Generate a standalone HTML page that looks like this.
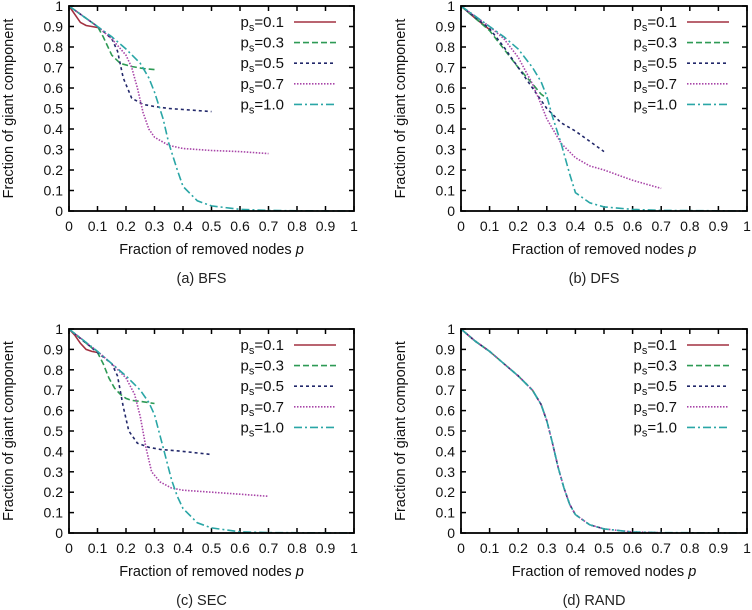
<!DOCTYPE html>
<html><head><meta charset="utf-8">
<style>
html,body{margin:0;padding:0;background:#fff;}
svg{display:block;font-family:"Liberation Sans",Arial,sans-serif;}
</style></head>
<body>
<svg id="fig" width="752" height="610" viewBox="0 0 752 610"></svg>
<script>
const seriesLabels = ["0.1","0.3","0.5","0.7","1.0"];
const xTicks = [0,0.1,0.2,0.3,0.4,0.5,0.6,0.7,0.8,0.9,1];
const yTicks = [0,0.1,0.2,0.3,0.4,0.5,0.6,0.7,0.8,0.9,1];
const xTickLabels = ["0","0.1","0.2","0.3","0.4","0.5","0.6","0.7","0.8","0.9","1"];
const yTickLabels = ["0","0.1","0.2","0.3","0.4","0.5","0.6","0.7","0.8","0.9","1"];
const captions = ["(a)   BFS","(b)   DFS","(c)   SEC","(d)   RAND"];

// Panel a (BFS)
const bfsX = [
 [0,0.02,0.04,0.06,0.08,0.1],
 [0,0.05,0.1,0.12,0.15,0.18,0.22,0.26,0.3],
 [0,0.05,0.1,0.15,0.17,0.19,0.22,0.26,0.3,0.35,0.4,0.5],
 [0,0.1,0.15,0.2,0.22,0.24,0.26,0.28,0.3,0.35,0.4,0.5,0.6,0.7],
 [0,0.1,0.15,0.2,0.25,0.28,0.3,0.33,0.35,0.38,0.4,0.45,0.5,0.6,0.7,0.8,1.0]];
const bfsY = [
 [1,0.96,0.92,0.905,0.9,0.895],
 [1,0.95,0.9,0.85,0.76,0.72,0.705,0.695,0.69],
 [1,0.95,0.9,0.84,0.78,0.65,0.55,0.52,0.51,0.5,0.495,0.485],
 [1,0.9,0.84,0.76,0.7,0.6,0.48,0.4,0.36,0.32,0.305,0.295,0.29,0.28],
 [1,0.9,0.85,0.79,0.72,0.65,0.58,0.45,0.33,0.2,0.12,0.05,0.025,0.008,0.003,0.001,0]];
// Panel b (DFS)
const dfsX = [
 [0,0.05,0.1],
 [0,0.1,0.15,0.2,0.25,0.28,0.3],
 [0,0.1,0.15,0.2,0.25,0.3,0.35,0.4,0.45,0.5],
 [0,0.1,0.15,0.2,0.25,0.28,0.3,0.35,0.4,0.45,0.5,0.6,0.7],
 [0,0.1,0.15,0.2,0.25,0.28,0.3,0.32,0.35,0.38,0.4,0.45,0.5,0.6,0.7,1]];
const dfsY = [
 [1,0.94,0.885],
 [1,0.88,0.79,0.7,0.62,0.57,0.55],
 [1,0.89,0.8,0.7,0.6,0.5,0.43,0.39,0.34,0.29],
 [1,0.9,0.84,0.75,0.62,0.52,0.45,0.33,0.26,0.22,0.2,0.15,0.11],
 [1,0.9,0.85,0.79,0.7,0.63,0.56,0.46,0.33,0.18,0.09,0.04,0.02,0.008,0.003,0]];
// Panel c (SEC)
const secX = [
 [0,0.02,0.04,0.06,0.08,0.1],
 [0,0.1,0.12,0.14,0.16,0.18,0.2,0.22,0.25,0.3],
 [0,0.1,0.15,0.17,0.19,0.21,0.24,0.28,0.32,0.4,0.5],
 [0,0.1,0.15,0.2,0.23,0.25,0.27,0.29,0.32,0.36,0.4,0.5,0.6,0.7],
 [0,0.1,0.15,0.2,0.25,0.28,0.3,0.33,0.36,0.38,0.4,0.45,0.5,0.6,0.7,1]];
const secY = [
 [1,0.97,0.93,0.9,0.89,0.885],
 [1,0.885,0.83,0.76,0.71,0.68,0.66,0.65,0.645,0.635],
 [1,0.885,0.83,0.77,0.62,0.5,0.44,0.42,0.41,0.4,0.385],
 [1,0.89,0.83,0.76,0.68,0.57,0.42,0.3,0.25,0.22,0.21,0.2,0.19,0.18],
 [1,0.89,0.83,0.77,0.7,0.64,0.58,0.42,0.26,0.18,0.12,0.05,0.025,0.006,0.002,0]];
// Panel d (RAND)
const randX = [0,0.05,0.1,0.15,0.2,0.25,0.28,0.3,0.32,0.34,0.36,0.38,0.4,0.45,0.5,0.6,0.7,1];
const randY = [1,0.94,0.89,0.83,0.77,0.7,0.63,0.55,0.44,0.32,0.22,0.14,0.09,0.04,0.02,0.005,0.002,0];
const randLimits = [0.1,0.3,0.5,0.7,1.0];

const colors = ["#a23040","#2e9a55","#22286a","#a845a8","#2aa6a6"];
const dashes = ["","6,3","3,3","1.5,1.5","8,3,2,3"];
const NS = "http://www.w3.org/2000/svg";
const svg = document.getElementById("fig");
function mk(tag, attrs, parent){const e=document.createElementNS(NS,tag);for(const k in attrs)e.setAttribute(k,attrs[k]);(parent||svg).appendChild(e);return e;}

function randSeries(lim){const xs=[],ys=[];for(let i=0;i<randX.length;i++){if(randX[i]<=lim+1e-9){xs.push(randX[i]);ys.push(randY[i]);}}return [xs,ys];}

const panels = [
 {x0:69,x1:354,y0:211,y1:6,cap:0,xs:bfsX,ys:bfsY,name:"bfs"},
 {x0:461,x1:747,y0:211,y1:6,cap:1,xs:dfsX,ys:dfsY,name:"dfs"},
 {x0:69,x1:354,y0:533,y1:329,cap:2,xs:secX,ys:secY,name:"sec"},
 {x0:461,x1:747,y0:533,y1:329,cap:3,xs:randLimits.map(l=>randSeries(l)[0]),ys:randLimits.map(l=>randSeries(l)[1]),name:"rand"}
];

panels.forEach(p=>{
  const g = mk("g",{});
  
  
  const sx = v => p.x0 + v*(p.x1-p.x0);
  const sy = v => p.y0 + v*(p.y1-p.y0);
  xTicks.forEach((t,i)=>{
    const x=sx(t);
    mk("line",{x1:x,x2:x,y1:p.y0,y2:p.y0-5,stroke:"#000","stroke-width":1.5},g);
    mk("line",{x1:x,x2:x,y1:p.y1,y2:p.y1+5,stroke:"#000","stroke-width":1.5},g);
    const tl=mk("text",{x:x,y:p.y0+20,"text-anchor":"middle","font-size":14,fill:"#111"},g);
    tl.textContent=xTickLabels[i];
    
    
  });
  yTicks.forEach((t,i)=>{
    const y=sy(t);
    mk("line",{x1:p.x0,x2:p.x0+5,y1:y,y2:y,stroke:"#000","stroke-width":1.5},g);
    mk("line",{x1:p.x1,x2:p.x1-5,y1:y,y2:y,stroke:"#000","stroke-width":1.5},g);
    const tl=mk("text",{x:p.x0-6,y:y+5,"text-anchor":"end","font-size":14,fill:"#111"},g);
    tl.textContent=yTickLabels[i];
    
    
  });
  p.xs.forEach((xs,si)=>{
    const d = xs.map((v,i)=>(i?"L":"M")+sx(v).toFixed(1)+","+sy(p.ys[si][i]).toFixed(1)).join("");
    const path = mk("path",{d:d,fill:"none",stroke:colors[si],"stroke-width":1.6,"stroke-dasharray":dashes[si]},g);
    
    
  });
  mk("rect",{x:p.x0,y:p.y1,width:p.x1-p.x0,height:p.y0-p.y1,fill:"none",stroke:"#000","stroke-width":1.8},g);
  seriesLabels.forEach((lab,i)=>{
    const ly = p.y1 + 16 + i*20.6;
    const te = mk("text",{x:p.x1-70,y:ly+5,"text-anchor":"end","font-size":15,fill:"#111"},g);
    te.innerHTML = 'p<tspan font-size="11" dy="4">s</tspan><tspan dy="-4">='+lab+'</tspan>';
    
    
    mk("line",{x1:p.x1-60,x2:p.x1-18,y1:ly,y2:ly,stroke:colors[i],"stroke-width":1.6,"stroke-dasharray":dashes[i]},g);
  });
  const xt = mk("text",{x:(p.x0+p.x1)/2,y:p.y0+43,"text-anchor":"middle","font-size":14.5,fill:"#111"},g);
  xt.innerHTML = 'Fraction of removed nodes <tspan font-style="italic">p</tspan>';
  
  
  const cy=(p.y0+p.y1)/2, cx=p.x0-56;
  const yt = mk("text",{x:cx,y:cy,"text-anchor":"middle","font-size":14.5,fill:"#111",transform:"rotate(-90 "+cx+" "+cy+")"},g);
  yt.textContent = "Fraction of giant component";
  
  
  const cp = mk("text",{x:(p.x0+p.x1)/2-10,y:p.y0+72,"text-anchor":"middle","font-size":14.5,fill:"#222"},g);
  cp.setAttribute("xml:space","preserve");
  cp.textContent = captions[p.cap];
  
  
});
</script>
</body></html>
